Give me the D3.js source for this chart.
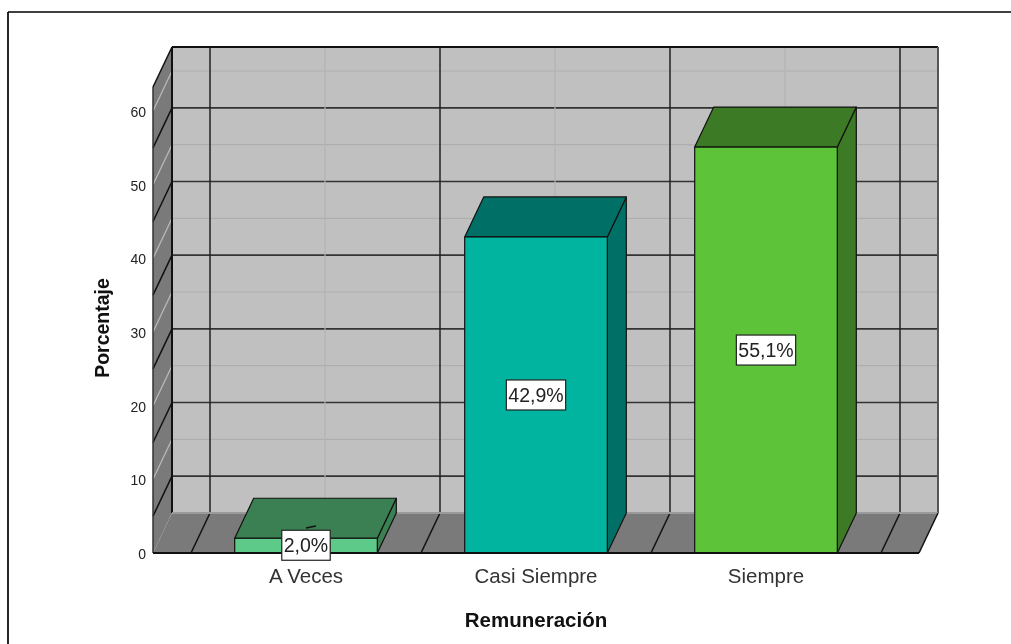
<!DOCTYPE html>
<html><head><meta charset="utf-8">
<script src="https://cdn.jsdelivr.net/npm/d3@7"></script>
<style>html,body{margin:0;padding:0;background:#fff}svg{display:block;filter:blur(.35px)}text{font-family:"Liberation Sans",Arial,sans-serif}</style>
</head><body><svg id="c" width="1011" height="644"></svg>
<script>
const categories = ["A Veces","Casi Siempre","Siempre"];
const values = [2.0,42.9,55.1];
const valueLabels = ["2,0%","42,9%","55,1%"];
const frontColors = ["#5dca8a","#00b4a0","#5dc43a"];
const topColors = ["#3a8052","#007066","#3d7a26"];
const sideColors = ["#3a8052","#007066","#3d7a26"];
const yTicks = [0,10,20,30,40,50,60];
const yMinor = [5,15,25,35,45,55];
const axisTitleX = "Remuneración";
const axisTitleY = "Porcentaje";

const dx=19, dy=-40;
const y=d3.scaleLinear().domain([0,60]).range([553,111]);
const x=d3.scaleBand().domain(categories).range([191,881]).paddingInner(.38).paddingOuter(.19);
const step=x.step();
const L=153,R=919;
const topBack=47;
const svg=d3.select("#c");
const line=(a,b,c,d,col,w)=>svg.append("line").attr("x1",a).attr("y1",b).attr("x2",c).attr("y2",d).attr("stroke",col).attr("stroke-width",w);
const poly=(pts,fill,stroke,w)=>svg.append("polygon").attr("points",pts.map(p=>p.join(",")).join(" ")).attr("fill",fill).attr("stroke",stroke||"none").attr("stroke-width",w||0).attr("stroke-linejoin","round");

// frame: only the top and left edges show in the crop
line(8,12,1011,12,"#000",1.7);
line(8,12,8,644,"#000",1.7);

const y0=y(0);
svg.append("rect").attr("x",L+dx).attr("y",topBack).attr("width",R-L).attr("height",y0+dy-topBack).attr("fill","#c0c0c0");
poly([[L,topBack-dy],[L+dx,topBack],[L+dx,y0+dy],[L,y0]],"#7a7a7a");
poly([[L,y0],[L+dx,y0+dy],[R+dx,y0+dy],[R,y0]],"#7a7a7a");

yTicks.filter(d=>d>0).forEach(d=>{
  line(L+dx,y(d)+dy,R+dx,y(d)+dy,"#aeaeae",1.2);
  line(L,y(d),L+dx,y(d)+dy,"#b8b8b8",1.3);
});
yMinor.forEach(d=>{
  line(L+dx,y(d)+dy,R+dx,y(d)+dy,"#333",1.7);
  line(L,y(d),L+dx,y(d)+dy,"#111",1.5);
});
categories.forEach(c=>{
  const cx=x(c)+x.bandwidth()/2;
  line(cx+dx,topBack,cx+dx,y0+dy,"#b2b2b2",1.2);
});
d3.range(categories.length+1).forEach(i=>{
  const bx=x.range()[0]+i*step;
  line(bx+dx,topBack,bx+dx,y0+dy,"#222",1.5);
  line(bx,y0,bx+dx,y0+dy,"#111",1.5);
});
line(L+dx,topBack,R+dx,topBack,"#111",2);
line(L+dx,topBack,L+dx,y0+dy,"#111",2);
line(R+dx,topBack,R+dx,y0+dy,"#555",2);
line(L,topBack-dy,L+dx,topBack,"#111",1.5);
line(L,topBack-dy,L,y0,"#333",1.5);
line(L+dx,y0+dy,R+dx,y0+dy,"#9a9a9a",2);
line(R,y0,R+dx,y0+dy,"#111",1.5);

categories.forEach((c,i)=>{
  const a=x(c),b=a+x.bandwidth(),t=y(values[i]);
  poly([[b,t],[b+dx,t+dy],[b+dx,y0+dy],[b,y0]],sideColors[i],"#111",1.2);
  poly([[a,t],[a+dx,t+dy],[b+dx,t+dy],[b,t]],topColors[i],"#111",1.2);
  svg.append("rect").attr("x",a).attr("y",t).attr("width",b-a).attr("height",y0-t).attr("fill",frontColors[i]).attr("stroke","#111").attr("stroke-width",1.2);
});
line(L,y0,R,y0,"#111",2);

svg.selectAll(".yt").data(yTicks).join("text").attr("x",146).attr("y",d=>y(d)+6).attr("text-anchor","end").attr("font-size",14).attr("fill","#222").text(d=>d);

svg.selectAll(".xt").data(categories).join("text").attr("x",c=>x(c)+x.bandwidth()/2).attr("y",583).attr("text-anchor","middle").attr("font-size",20.5).attr("fill","#333").text(c=>c);

line(306,528,316,526,"#111",1.6);

categories.forEach((c,i)=>{
  const cx=x(c)+x.bandwidth()/2;
  const cy = i===0 ? y(values[i])+7 : (y(values[i])+y0)/2;
  const t=svg.append("text").attr("x",cx).attr("y",cy+7).attr("text-anchor","middle").attr("font-size",19.5).attr("fill","#222").text(valueLabels[i]);
  const w=t.node().getComputedTextLength()+4;
  svg.insert("rect",()=>t.node()).attr("x",cx-w/2).attr("y",cy-15).attr("width",w).attr("height",30).attr("fill","#fff").attr("stroke","#222").attr("stroke-width",1.2);
});

svg.append("text").attr("x",536).attr("y",627).attr("text-anchor","middle").attr("font-size",20.5).attr("font-weight","bold").attr("fill","#111").text(axisTitleX);
svg.append("text").attr("transform","translate(109,328) rotate(-90)").attr("text-anchor","middle").attr("font-size",19.5).attr("font-weight","bold").attr("fill","#111").text(axisTitleY);
</script></body></html>
